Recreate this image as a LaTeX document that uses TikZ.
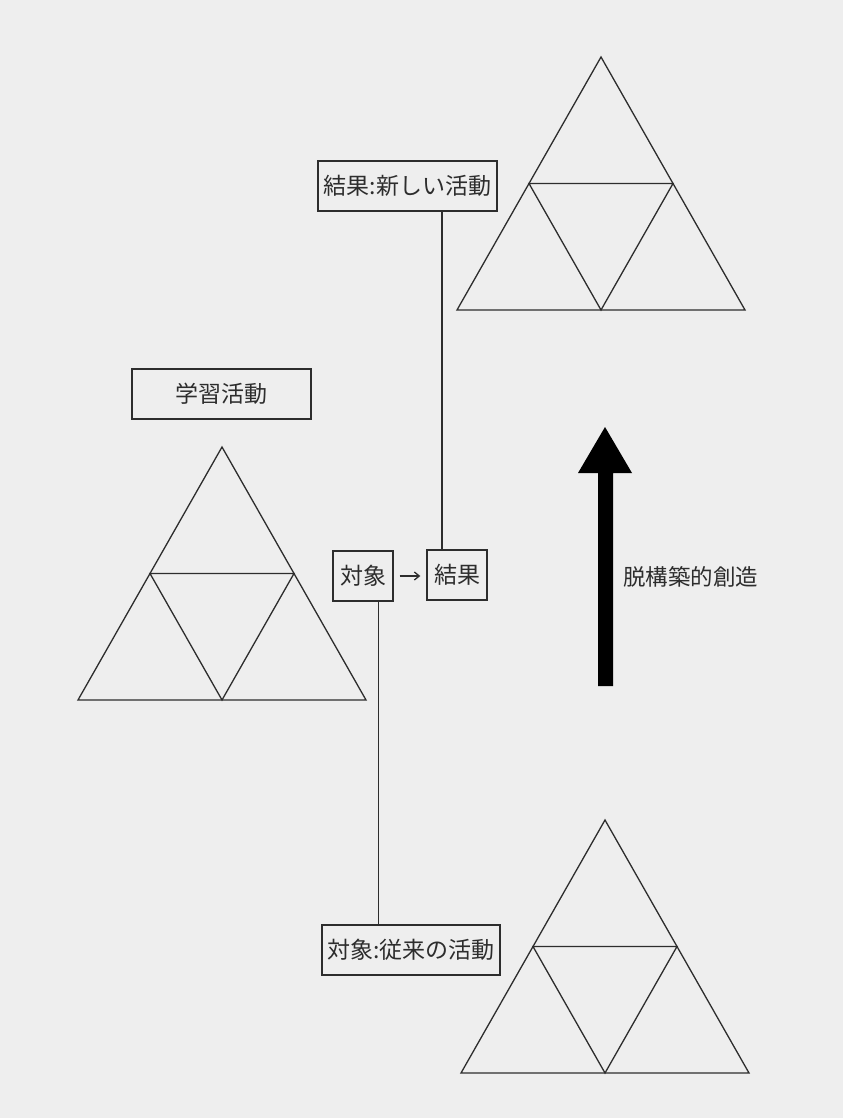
\documentclass[tikz,border=0pt]{standalone}
\usepackage{fontspec}
\usetikzlibrary{arrows.meta}
\newfontfamily\jp{Noto Sans CJK JP}
\definecolor{bg}{RGB}{238,238,238}
\definecolor{ink}{RGB}{45,45,45}
\begin{document}
\begin{tikzpicture}[x=1pt,y=-1pt,
  box/.style={draw=ink,line width=1.3pt,fill=bg,inner sep=0pt,minimum height=50pt,font=\jp\fontsize{23}{25}\selectfont,text=ink},
  link/.style={draw=ink,line width=1.3pt},
  tri/.pic={
    \draw[ink,line width=1.3pt,line join=miter] (0,0) -- (-144,253) -- (144,253) -- cycle;
    \draw[ink,line width=1.3pt] (-72,126.5) -- (72,126.5) -- (0,253) -- cycle;
  }]
\fill[bg] (0,0) rectangle (843,1118);
\useasboundingbox (0,0) rectangle (843,1118);
% triangles
\pic at (601,57) {tri};
\pic at (222,447) {tri};
\pic at (605,820) {tri};
% boxes
\node[box,minimum width=179pt] (newact) at (407.5,186) {結果:新しい活動};
\node[box,minimum width=179pt] (learn) at (221.5,394) {学習活動};
\node[box,minimum width=60pt] (obj) at (363,576) {対象};
\node[box,minimum width=60pt] (res) at (457,575) {結果};
\node[box,minimum width=178pt] (oldact) at (411,950) {対象:従来の活動};
% connectors
\coordinate (c1) at (442,0);
\coordinate (c2) at (378.5,0);
\draw[link] (res.north -| c1) -- (newact.south -| c1);
\draw[link] (obj.south -| c2) -- (oldact.north -| c2);
\draw[ink,line width=1.3pt,-{Straight Barb[length=5pt,width=8pt]},shorten <=6pt,shorten >=6pt] (obj.east) -- (res.west |- obj.east);
% big arrow
\coordinate (tip) at (605,427);
\fill[black] (598,686) -- (598,473) -- (578,473) -- (tip) -- (632,473) -- (613,473) -- (613,686) -- cycle;
\node[anchor=west,inner sep=0pt,font=\jp\fontsize{22.5}{25}\selectfont,text=ink] (label) at (623,577) {脱構築的創造};
\end{tikzpicture}
\end{document}
